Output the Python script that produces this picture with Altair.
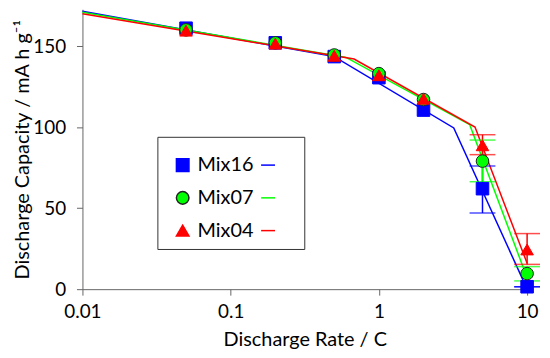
import altair as alt
import pandas as pd

# ---- data ----
series = ["Mix16", "Mix07", "Mix04"]
rates = [0.05, 0.2, 0.5, 1, 2, 5, 10]
cap_mix16 = [161, 152, 143.5, 130.5, 110.5, 62, 1.5]
cap_mix07 = [160, 152, 144.5, 133, 117, 79, 9.6]
cap_mix04 = [159.5, 151.5, 144, 132, 117.5, 88.8, 24.5]

err_rates = [5, 10]
err_lo_mix16 = [47, 1.5]
err_hi_mix16 = [76, 1.5]
err_lo_mix07 = [66.3, 5.1]
err_hi_mix07 = [92, 13.9]
err_lo_mix04 = [83, 15.3]
err_hi_mix04 = [95.3, 34.3]

fit_x_mix16 = [0.01, 0.5, 3.2, 10]
fit_y_mix16 = [171.5, 143.5, 99.5, 0]
fit_x_mix07 = [0.01, 0.6, 4.1, 10]
fit_y_mix07 = [170.8, 143, 101.5, 7]
fit_x_mix04 = [0.01, 0.68, 4.45, 10]
fit_y_mix04 = [170, 142, 100, 16]

colors = ["#0000FF", "#00FF00", "#FF0000"]
outlines = ["#0000FF", "#222222", "#FF0000"]
shapes = ["square", "circle", "triangle-up"]
FONT = "Lato"

# ---- tables ----
caps = {"Mix16": cap_mix16, "Mix07": cap_mix07, "Mix04": cap_mix04}
pts = pd.DataFrame([{"series": s, "rate": r, "cap": c}
                    for s in series for r, c in zip(rates, caps[s])])

errs_lo = {"Mix16": err_lo_mix16, "Mix07": err_lo_mix07, "Mix04": err_lo_mix04}
errs_hi = {"Mix16": err_hi_mix16, "Mix07": err_hi_mix07, "Mix04": err_hi_mix04}
errs = pd.DataFrame([{"series": s, "rate": r, "lo": lo, "hi": hi}
                     for s in series
                     for r, lo, hi in zip(err_rates, errs_lo[s], errs_hi[s])])

fx = {"Mix16": fit_x_mix16, "Mix07": fit_x_mix07, "Mix04": fit_x_mix04}
fy = {"Mix16": fit_y_mix16, "Mix07": fit_y_mix07, "Mix04": fit_y_mix04}
fits = pd.DataFrame([{"series": s, "rate": x, "cap": y, "order": i}
                     for s in series
                     for i, (x, y) in enumerate(zip(fx[s], fy[s]))])

# ---- scales / axes ----
xscale = alt.Scale(type="log", domain=[0.01, 10], nice=False)
yscale = alt.Scale(domain=[0, 172.7], nice=False, zero=True)
xaxis = alt.Axis(values=[0.01, 0.1, 1, 10], labelExpr="format(datum.value, '.2~f')",
                 title="Discharge Rate / C", grid=False, tickSize=6,
                 labelPadding=8, titlePadding=8, labelFlush=False)
yaxis = alt.Axis(values=[0, 50, 100, 150], title="Discharge Capacity / mA h g\u207b\u00b9",
                 grid=False, tickSize=6, labelPadding=11, titlePadding=0)

line_color = alt.Color("series:N", sort=series, scale=alt.Scale(range=colors),
                       legend=alt.Legend(orient="none", legendX=177, legendY=147,
                                         title=None, padding=0, symbolType="stroke",
                                         symbolSize=196, symbolStrokeWidth=1.5,
                                         labelExpr="'\u00a0'", rowPadding=13,
                                         labelFontSize=20, strokeColor="transparent"))

lines = alt.Chart(fits).mark_line(strokeWidth=1.5).encode(
    x=alt.X("rate:Q", scale=xscale, axis=xaxis),
    y=alt.Y("cap:Q", scale=yscale, axis=yaxis),
    color=line_color,
    order="order:Q",
)

err_color = alt.Color("series:N", sort=series, scale=alt.Scale(range=colors), legend=None)

rules = alt.Chart(errs).mark_rule(strokeWidth=1.5).encode(
    x="rate:Q", y="lo:Q", y2="hi:Q", color=err_color)
cap_lo = alt.Chart(errs).mark_tick(orient="horizontal", size=26, thickness=1.5).encode(
    x="rate:Q", y="lo:Q", color=err_color)
cap_hi = alt.Chart(errs).mark_tick(orient="horizontal", size=26, thickness=1.5).encode(
    x="rate:Q", y="hi:Q", color=err_color)

pt_legend = dict(orient="none", legendX=76, legendY=132, title=None,
                 padding=15, strokeColor="transparent", rowPadding=13, symbolSize=160,
                 labelFontSize=20, labelOffset=5)

points = alt.Chart(pts).mark_point(filled=True, size=160, strokeWidth=1, opacity=1).encode(
    x="rate:Q",
    y="cap:Q",
    fill=alt.Fill("series:N", scale=alt.Scale(domain=series, range=colors),
                  legend=alt.Legend(**pt_legend)),
    stroke=alt.Stroke("series:N", scale=alt.Scale(domain=series, range=outlines),
                      legend=alt.Legend(**pt_legend)),
    shape=alt.Shape("series:N", scale=alt.Scale(domain=series, range=shapes),
                    legend=alt.Legend(**pt_legend)),
)

# frame around the legend (decoration only)
legend_frame = alt.Chart(pd.DataFrame({"k": [0]})).mark_rect(
    fillOpacity=0, stroke="#333333", strokeWidth=1
).encode(x=alt.value(76), x2=alt.value(224), y=alt.value(129), y2=alt.value(242))

chart = alt.layer(lines, rules, cap_lo, cap_hi, points, legend_frame).properties(
    width=448, height=282,
    autosize=alt.AutoSizeParams(type="none"),
    padding={"left": 75, "top": 0, "right": 15, "bottom": 60},
).configure_view(stroke=None).configure_axis(
    labelFont=FONT, titleFont=FONT, labelFontSize=19, titleFontSize=20,
    labelColor="#000000", titleColor="#000000", titleFontWeight="normal",
    domainColor="#666666", tickColor="#666666", domainWidth=1,
).configure_legend(labelFont=FONT, titleFont=FONT, labelColor="#000000")

chart.save("out.html", embed_options={"renderer": "svg", "actions": False})
